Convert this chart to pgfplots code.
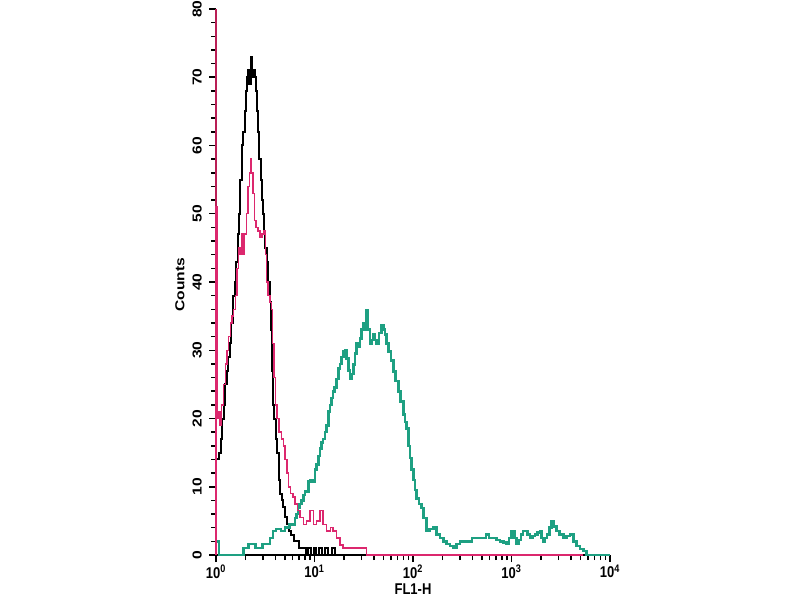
\documentclass[border=0pt]{standalone}
\usepackage{pgfplots}
\pgfplotsset{compat=1.18}
\usepackage{fontspec}
\setmainfont{Liberation Sans}
\usepackage{graphicx}
\definecolor{fgreen}{RGB}{30,160,130}
\definecolor{fred}{RGB}{220,40,110}
\definecolor{faxis}{RGB}{185,30,85}
\newcommand{\sx}[1]{\scalebox{1}[1.2]{#1}}
\newcommand{\sy}[1]{\scalebox{1.2}[1]{#1}}
\begin{document}
\begin{tikzpicture}[x=1pt,y=1pt]
\path[use as bounding box] (0,0) rectangle (800,600);
\begin{axis}[
  at={(216pt,45pt)}, anchor=south west,
  scale only axis, width=394pt, height=546pt,
  xmin=0, xmax=4, ymin=0, ymax=80,
  axis x line=bottom, axis y line=left,
  axis line style={-, line width=1.8pt},
  y axis line style={draw=faxis},
  tick align=outside,
  major tick length=7pt, minor tick length=5pt,
  xtick style={draw=black, line width=1.5pt},
  ytick style={draw=black, line width=1.5pt},
  minor tick style={draw=black, line width=1.5pt},
  xtick={0,1,2,3,4},
  xticklabels={\sx{10\textsuperscript{0}},\sx{10\textsuperscript{1}},\sx{10\textsuperscript{2}},\sx{10\textsuperscript{3}},\sx{10\textsuperscript{4}}},
  minor xtick={0.301,0.477,0.602,0.699,0.778,0.845,0.903,0.954,
    1.301,1.477,1.602,1.699,1.778,1.845,1.903,1.954,
    2.301,2.477,2.602,2.699,2.778,2.845,2.903,2.954,
    3.301,3.477,3.602,3.699,3.778,3.845,3.903,3.954},
  ytick={0,10,20,30,40,50,60,70,80},
  minor ytick={2,4,6,8,12,14,16,18,22,24,26,28,32,34,36,38,42,44,46,48,52,54,56,58,62,64,66,68,72,74,76,78},
  yticklabels={\sy{0},\sy{10},\sy{20},\sy{30},\sy{40},\sy{50},\sy{60},\sy{70},\sy{80}},
  yticklabel style={rotate=90, anchor=south, inner ysep=7pt},
  xticklabel style={anchor=north, inner ysep=3pt},
  font=\fontsize{13}{15}\selectfont\bfseries,
  xlabel={\sx{FL1-H}},
  xlabel style={at={(axis description cs:0.5,-0.062)}, anchor=center},
  ylabel={\sy{Counts}},
  ylabel style={at={(axis description cs:-0.0914,0.495)}, anchor=center},
  clip=false,
]
% black: control
\addplot[const plot, black, line width=2pt] coordinates {
(0,0) (0,14) (0.01,14) (0.03,15) (0.05,17) (0.065,20) (0.08,22) (0.095,25)
(0.11,27) (0.125,29) (0.14,31) (0.155,34) (0.17,38) (0.19,40) (0.205,43)
(0.22,47) (0.235,50) (0.245,55) (0.26,60) (0.275,62) (0.29,65) (0.30,68)
(0.31,70) (0.325,71) (0.338,69) (0.352,73) (0.365,70) (0.38,71) (0.396,70)
(0.41,68) (0.42,65) (0.43,62) (0.44,58) (0.452,55) (0.464,52) (0.476,50)
(0.487,47) (0.50,45) (0.515,43) (0.53,40) (0.548,37) (0.555,33) (0.565,27)
(0.575,22) (0.59,20) (0.605,17) (0.62,15) (0.635,11) (0.65,9) (0.665,8)
(0.68,7) (0.70,5.5) (0.72,4.5) (0.74,3.5) (0.765,3) (0.79,2) (0.82,2)
(0.845,1) (0.88,1) (0.91,0) (0.935,1) (0.96,0) (0.99,1) (1.02,0) (1.05,1)
(1.08,0) (1.11,1) (1.14,0) (1.175,1) (1.21,0) (4.0,0)
};
% green: stained
\addplot[const plot, fgreen, line width=2.6pt] coordinates {
(0,0) (0,2) (0.03,0) (0.277,1) (0.33,1.6) (0.379,1.6) (0.40,1) (0.426,1)
(0.47,1.6) (0.515,1.6) (0.548,2.5) (0.579,3.5) (0.61,3.8) (0.63,3.8) (0.66,3.5)
(0.68,3.5) (0.70,4) (0.718,4) (0.745,4.5) (0.768,4.5) (0.802,5.4) (0.818,6)
(0.832,7) (0.85,7.5) (0.87,8) (0.888,8.8) (0.904,9.3) (0.937,10.8) (0.96,11)
(0.985,10.8) (1.005,12.5) (1.022,13.3) (1.04,14.5) (1.056,15.6) (1.07,16.5)
(1.086,17) (1.105,18) (1.124,19) (1.14,21) (1.157,22) (1.172,23) (1.188,24)
(1.205,24.5) (1.225,25.8) (1.242,27.3) (1.26,28) (1.275,29) (1.292,29.8)
(1.31,30) (1.327,28.8) (1.345,27) (1.36,25.8) (1.377,26.5) (1.394,27.9)
(1.41,29.5) (1.428,31) (1.445,30.5) (1.462,31.7) (1.478,33) (1.495,34)
(1.512,33) (1.53,35.9) (1.545,33) (1.563,31) (1.58,31.5) (1.597,32.3)
(1.614,31.5) (1.631,31) (1.655,32.5) (1.682,33.7) (1.70,33) (1.716,32.3)
(1.732,31) (1.749,29.8) (1.775,28.5) (1.80,26.9) (1.825,25.5) (1.851,24)
(1.875,22.5) (1.902,20.6) (1.92,19.5) (1.936,18.5) (1.953,16) (1.97,14.2)
(1.986,12.5) (2.003,11) (2.02,9.5) (2.038,8.3) (2.06,7.5) (2.088,6.9)
(2.105,5.4) (2.139,3.5) (2.17,3.8) (2.206,4) (2.24,3) (2.274,2.5) (2.31,2)
(2.342,1.6) (2.375,1.3) (2.409,1) (2.44,1.6) (2.477,2) (2.55,2) (2.60,2.5)
(2.68,2.5) (2.74,3) (2.77,2.5) (2.81,2.5) (2.85,2.2) (2.883,2) (2.92,1.8)
(2.951,1.6) (2.975,2.5) (3.002,3.5) (3.028,2.5) (3.053,1.6) (3.075,2.2)
(3.096,3) (3.118,3.5) (3.137,3.5) (3.16,3) (3.188,2.5) (3.215,2.8) (3.239,3)
(3.265,3.3) (3.289,3.5) (3.305,2.5) (3.32,2) (3.34,2.5) (3.36,3) (3.385,4)
(3.408,5) (3.432,4.2) (3.459,3.5) (3.49,3) (3.526,2.5) (3.56,2.8) (3.594,3)
(3.63,2) (3.662,1.3) (3.695,0.9) (3.729,0.6) (3.763,0) (4.0,0)
};
% red: isotype
\addplot[const plot, fred, line width=1.5pt] coordinates {
(0,0) (0,51) (0.012,20) (0.025,21) (0.04,19) (0.055,22) (0.075,25) (0.095,28)
(0.11,30) (0.125,32) (0.145,34) (0.16,35) (0.18,36) (0.20,38) (0.215,42)
(0.23,45) (0.245,44) (0.26,47) (0.275,44) (0.29,47) (0.31,50) (0.325,54)
(0.34,56) (0.352,58) (0.362,56) (0.375,53) (0.39,49) (0.405,48) (0.425,47.5)
(0.445,46.5) (0.465,47) (0.485,47.5) (0.50,44) (0.515,40) (0.53,38) (0.55,37)
(0.565,36) (0.575,31) (0.59,26) (0.605,22) (0.62,20) (0.64,18) (0.665,17)
(0.685,16) (0.70,14) (0.72,12) (0.735,10) (0.755,9) (0.78,8.5) (0.80,7.5)
(0.825,6.5) (0.853,5.5) (0.886,4.5) (0.92,5) (0.954,6.5) (0.988,4.5) (1.02,5)
(1.056,6.5) (1.086,4.5) (1.124,3.5) (1.16,4) (1.19,3.5) (1.225,2.5) (1.26,1.5)
(1.29,1) (1.53,0) (3.73,0)
};
\end{axis}
% diagnostic marker-free: nothing
\end{tikzpicture}
\end{document}
